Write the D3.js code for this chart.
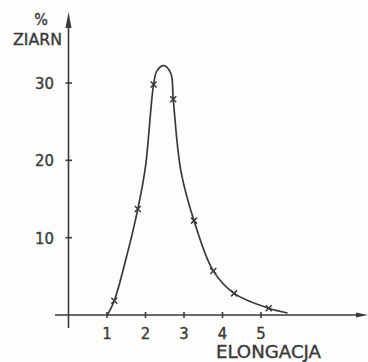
<!DOCTYPE html>
<html>
<head>
<meta charset="utf-8">
<script src="https://cdn.jsdelivr.net/npm/d3@7"></script>
<style>
html,body{margin:0;padding:0;background:#fdfdfb;}
svg{display:block;}
text{font-family:"DejaVu Sans Condensed","DejaVu Sans",sans-serif;fill:#3a3a3a;stroke:#3a3a3a;stroke-width:0.35;}
</style>
</head>
<body>
<svg id="chart" width="368" height="362"></svg>
<script>
// Measured points (x marks)
const markX = [1.19, 1.80, 2.21, 2.72, 3.26, 3.76, 4.30, 5.20];
const markY = [1.85, 13.7, 29.8, 27.9, 12.2, 5.7, 2.8, 0.87];
// Hand-drawn smooth curve through the points
const curveX = [1.01, 1.19, 1.50, 1.80, 2.00, 2.21, 2.30, 2.48, 2.66, 2.72, 2.92, 3.26, 3.76, 4.30, 5.20, 5.69];
const curveY = [0, 1.85, 7.4, 13.7, 19.2, 29.8, 31.6, 32.25, 31.2, 27.9, 18.6, 12.2, 5.7, 2.8, 0.87, 0.26];
const xTicks = [1, 2, 3, 4, 5];
const yTicks = [10, 20, 30];
const xTitle = "ELONGACJA";
const yTitle1 = "%";
const yTitle2 = "ZIARN";

const ink = "#3a3a3a";
const svg = d3.select("#chart");
const x = d3.scaleLinear().domain([0, 5]).range([68.5, 261]);
const y = d3.scaleLinear().domain([0, 30]).range([315, 83]);

// axes lines
svg.append("line").attr("x1", 55).attr("x2", 360).attr("y1", y(0)).attr("y2", y(0))
  .attr("stroke", ink).attr("stroke-width", 1.6);
svg.append("line").attr("x1", x(0)).attr("x2", x(0)).attr("y1", 328).attr("y2", 22)
  .attr("stroke", ink).attr("stroke-width", 1.6);
// arrow heads
svg.append("path").attr("d", `M${x(0)},12 L${x(0)-3},28 L${x(0)+3},28 Z`).attr("fill", ink);
svg.append("path").attr("d", `M368,${y(0)} L356,${y(0)-2.5} L356,${y(0)+2.5} Z`).attr("fill", ink);

// ticks
xTicks.forEach(t => {
  svg.append("line").attr("x1", x(t)).attr("x2", x(t)).attr("y1", y(0)-3).attr("y2", y(0)+3)
    .attr("stroke", ink).attr("stroke-width", 1.6);
  svg.append("text").attr("x", x(t)).attr("y", 339).attr("text-anchor", "middle")
    .attr("font-size", 16.5).text(t);
});
yTicks.forEach(t => {
  svg.append("line").attr("x1", x(0)-3).attr("x2", x(0)+3.5).attr("y1", y(t)).attr("y2", y(t))
    .attr("stroke", ink).attr("stroke-width", 1.6);
  svg.append("text").attr("x", 54).attr("y", y(t)+6).attr("text-anchor", "end")
    .attr("font-size", 16.5).text(t);
});

// titles
svg.append("text").attr("x", 41).attr("y", 25).attr("text-anchor", "middle")
  .attr("font-size", 16).text(yTitle1);
svg.append("text").attr("x", 13).attr("y", 44.5).attr("font-size", 16.5)
  .attr("textLength", 49).attr("lengthAdjust", "spacingAndGlyphs").text(yTitle2);
svg.append("text").attr("x", 216).attr("y", 358).attr("font-size", 17)
  .attr("textLength", 105).attr("lengthAdjust", "spacingAndGlyphs").text(xTitle);

// curve
const curveData = curveX.map((v, i) => [v, curveY[i]]);
const line = d3.line().x(d => x(d[0])).y(d => y(d[1])).curve(d3.curveCatmullRom.alpha(0.5));
svg.append("path").datum(curveData).attr("d", line)
  .attr("fill", "none").attr("stroke", ink).attr("stroke-width", 1.7);

// x marks
const s = 3;
markX.forEach((v, i) => {
  const cx = x(v), cy = y(markY[i]);
  svg.append("path").attr("d", `M${cx-s},${cy-s}L${cx+s},${cy+s}M${cx-s},${cy+s}L${cx+s},${cy-s}`)
    .attr("stroke", ink).attr("stroke-width", 1.5).attr("fill", "none");
});
</script>
</body>
</html>
